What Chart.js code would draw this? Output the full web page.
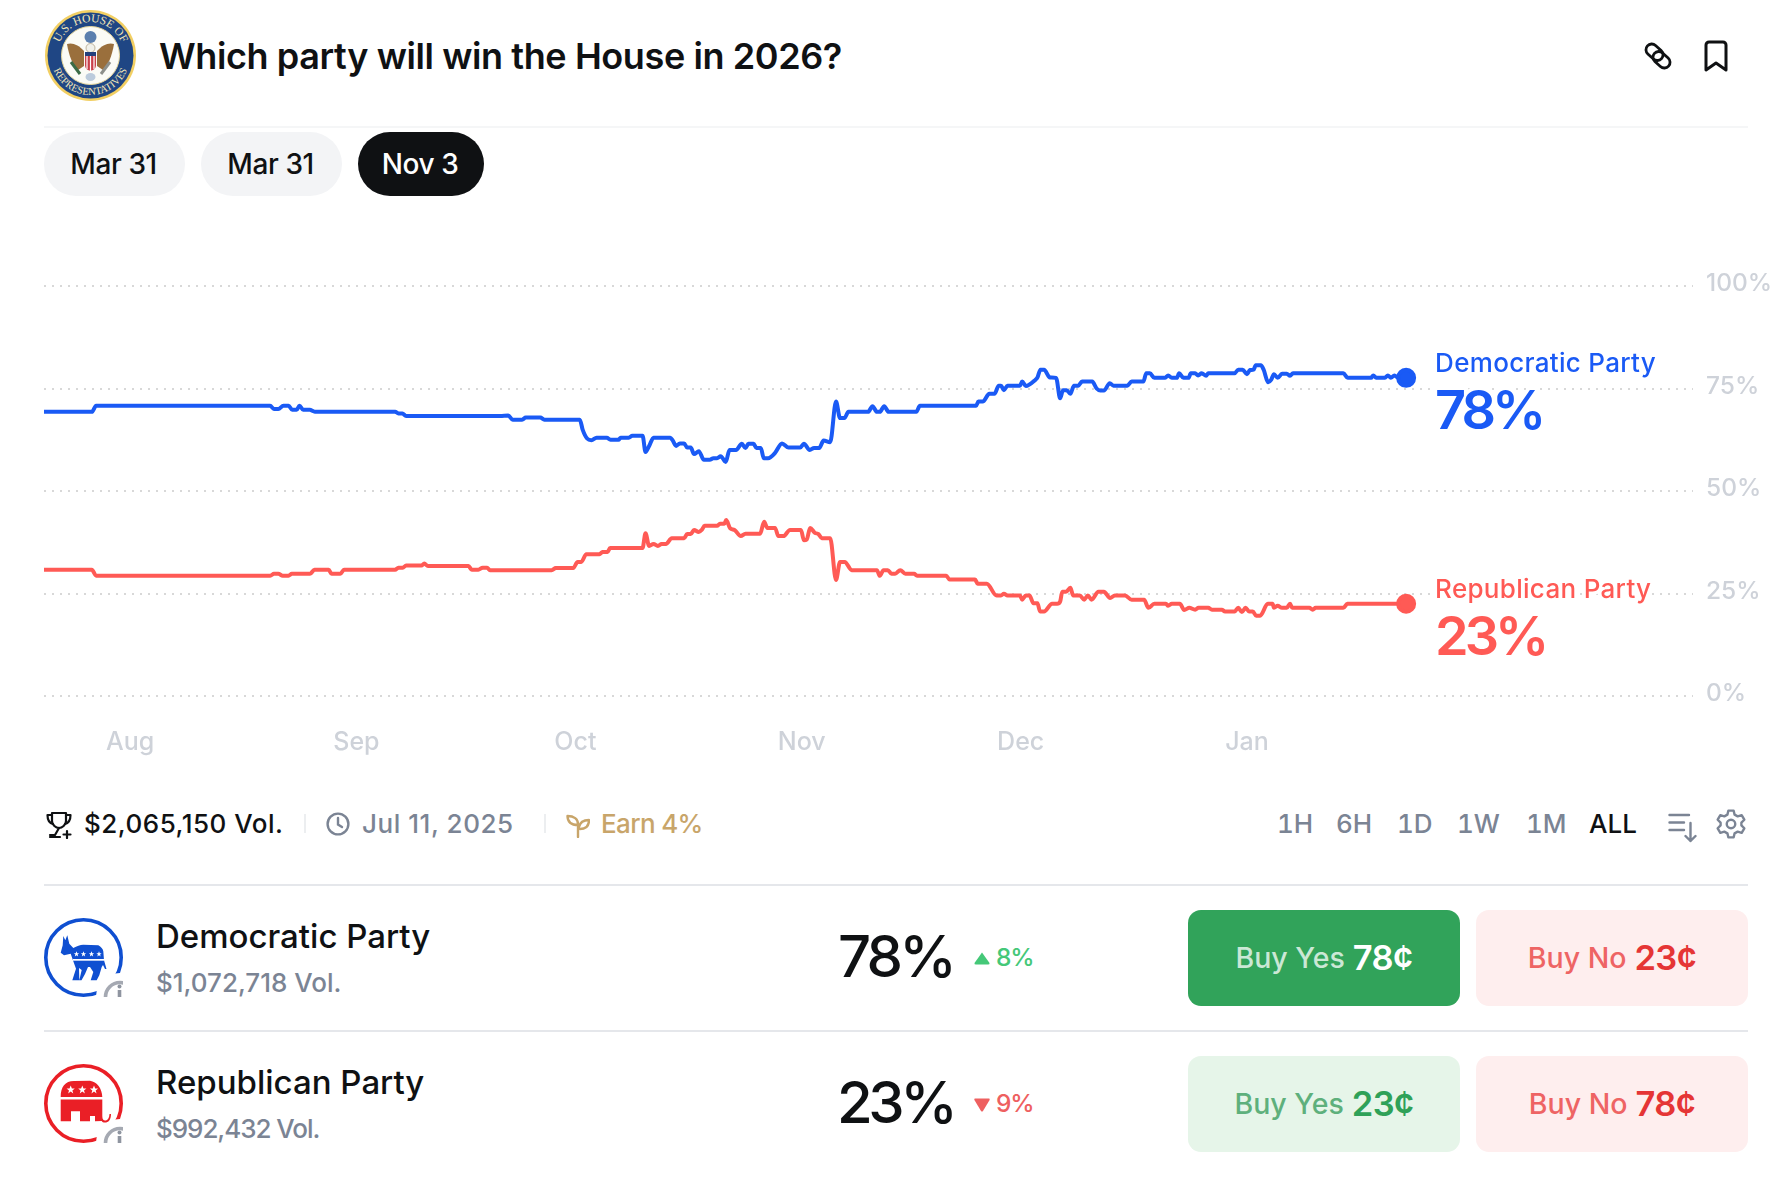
<!DOCTYPE html>
<html>
<head>
<meta charset="utf-8">
<title>Which party will win the House in 2026?</title>
<script src="https://cdn.jsdelivr.net/npm/chart.js@4"></script>
<style>
  html, body { margin: 0; background: #fff; }
  body { width: 1784px; height: 1182px; position: relative; overflow: hidden; font-family: Inter, "Noto Sans", sans-serif; font-weight: 500; color: #0f1113; }
  #chartWrap { position: absolute; left: 0; top: 240px; width: 1784px; height: 520px; }
  .t { position: absolute; white-space: nowrap; transform: translateY(-50%); line-height: 1; }
  .ico { position: absolute; display: block; }
  .rule { position: absolute; left: 44px; width: 1704px; }
  .pill { position: absolute; top: 132px; height: 64px; padding-right: 2px; box-sizing: border-box; border-radius: 32px; background: #f3f4f6; font-size: 28px; letter-spacing: -.4px; display: flex; align-items: center; justify-content: center; }
  .pill.on { background: #0f1113; color: #fff; }
  .sep { position: absolute; top: 814px; width: 2px; height: 19px; background: #eceef0; }
  .grey { color: #7b8494; }
  .range { font-size: 26px; font-feature-settings: "tnum" 1; }
  .btn { position: absolute; width: 272px; height: 96px; padding-bottom: 2px; box-sizing: border-box; border-radius: 13px; display: flex; align-items: center; justify-content: center; font-size: 28.5px; gap: 8px; }
  .btn b { font-size: 34.5px; font-weight: 600; letter-spacing: -.6px; }
  .yes1 { background: #31a35a; color: rgba(255,255,255,.75); }
  .yes1 b { color: #fff; }
  .yes2 { background: #e6f5e9; color: #5eb07c; }
  .yes2 b { color: #2fa158; }
  .no { background: #feeeee; color: #ee6464; }
  .no b { color: #e53535; }
</style>
</head>
<body>

<svg width="0" height="0" style="position:absolute">
  <defs>
    <path id="star" d="M0 -2.4 L.7 -.7 L2.4 -.7 L1 .4 L1.5 2.2 L0 1.1 L-1.5 2.2 L-1 .4 L-2.4 -.7 L-.7 -.7Z" fill="#fff"/>
    <g id="infoBadge">
      <circle cx="76" cy="79" r="24" fill="#fff"/>
      <circle cx="76" cy="79" r="14.5" fill="#fff" stroke="#a5a9b2" stroke-width="3.6"/>
      <path d="M75.5 72 V79" stroke="#8f95a0" stroke-width="3.6"/><circle cx="75.5" cy="68.5" r="2" fill="#8f95a0"/>
    </g>
  </defs>
</svg>

<!-- header -->
<svg class="ico" style="left:45px;top:10px" width="91" height="91" viewBox="0 0 91 91">
  <circle cx="45.5" cy="45.5" r="45.5" fill="#f2cf63"/>
  <circle cx="45.5" cy="45.5" r="43" fill="#1f4684"/>
  <circle cx="45.5" cy="45.5" r="29" fill="#fbfbf6" stroke="#e8d79a" stroke-width="1"/>
  <path id="sealTop" d="M12 45.5 A33.5 33.5 0 0 1 79 45.5" fill="none"/>
  <path id="sealBottom" d="M6 45.5 A39.5 39.5 0 0 0 85 45.5" fill="none"/>
  <text font-family="Liberation Serif" font-size="11.5" fill="#f4e6b8"><textPath href="#sealTop" startOffset="50%" text-anchor="middle">U.S. HOUSE OF</textPath></text>
  <text font-family="Liberation Serif" font-size="10.5" fill="#f4e6b8"><textPath href="#sealBottom" startOffset="50%" text-anchor="middle">REPRESENTATIVES</textPath></text>
  <circle cx="45.5" cy="27" r="6" fill="#5b7fae"/>
  <path d="M22 34 C27 32 34 35 39 41 L39 56 L33 60 C28 56 24 46 22 34Z" fill="#9a6f3c"/>
  <path d="M69 34 C64 32 57 35 52 41 L52 56 L58 60 C63 56 67 46 69 34Z" fill="#9a6f3c"/>
  <circle cx="45.5" cy="38" r="4.5" fill="#f1f1ea" stroke="#9a8a6a" stroke-width=".6"/>
  <rect x="40" y="42" width="11" height="4" fill="#23407c"/>
  <path d="M40 46 H51 V55 C51 59 48 60 45.5 61 C43 60 40 59 40 55Z" fill="#c9404a"/>
  <path d="M42 46 V59 M45.5 46 V61 M49 46 V59" stroke="#fff" stroke-width="1.2"/>
  <path d="M26 52 L35 64" stroke="#3b6b45" stroke-width="3"/>
  <path d="M65 52 L56 64" stroke="#8d8f8a" stroke-width="3"/>
  <ellipse cx="45.5" cy="67" rx="5" ry="4" fill="#bccbdc"/>
</svg>
<div class="t" style="left:159px;top:56px;font-size:36px;font-weight:600;letter-spacing:-.4px">Which party will win the House in 2026?</div>
<svg class="ico" style="left:1643px;top:41px" width="30" height="30" viewBox="0 0 30 30" fill="none" stroke="#0f1113" stroke-width="2.8">
  <rect x="2" y="5.5" width="19" height="11.5" rx="5.75" transform="rotate(42 11.5 11.25)"/>
  <rect x="9" y="13" width="19" height="11.5" rx="5.75" transform="rotate(42 18.5 18.75)"/>
</svg>
<svg class="ico" style="left:1704px;top:40px" width="24" height="32" viewBox="0 0 24 32" fill="none" stroke="#0f1113" stroke-width="3" stroke-linejoin="round">
  <path d="M2 30 V5 A3 3 0 0 1 5 2 H19 A3 3 0 0 1 22 5 V30 L12 23Z"/>
</svg>
<div class="rule" style="top:126px;height:2px;background:#f5f6f7"></div>
<div class="pill" style="left:44px;width:141px">Mar 31</div>
<div class="pill" style="left:201px;width:141px">Mar 31</div>
<div class="pill on" style="left:358px;width:126px">Nov 3</div>

<div id="chartWrap"><canvas id="chart" width="1784" height="520"></canvas></div>

<!-- stats bar -->
<svg class="ico" style="left:46px;top:811px" width="26" height="28" viewBox="0 0 26 28" fill="none" stroke="#0f1113" stroke-width="2.2" stroke-linejoin="round" stroke-linecap="round">
  <path d="M6 2 H20 V10 C20 14 16 17 13 17 C10 17 6 14 6 10Z"/>
  <path d="M6 4 H1.5 C1.5 9 3 12 7 13 M20 4 H24.5 C24.5 9 23 12 19 13"/>
  <path d="M13 17 L9 24 H4 M4 26 H14 M21 20 V27 M17.5 23.5 H24.5"/>
</svg>
<div class="t" style="left:84px;top:824px;font-size:26px;letter-spacing:.5px">$2,065,150 Vol.</div>
<div class="sep" style="left:304px"></div>
<svg class="ico" style="left:326px;top:812px" width="24" height="24" viewBox="0 0 24 24" fill="none" stroke="#7b8494" stroke-width="2.4" stroke-linecap="round">
  <circle cx="12" cy="12" r="10.4"/><path d="M12 6 V12.5 L16 15"/>
</svg>
<div class="t grey" style="left:362px;top:824px;font-size:26px;letter-spacing:.55px">Jul 11, 2025</div>
<div class="sep" style="left:544px"></div>
<svg class="ico" style="left:566px;top:814px" width="24" height="24" viewBox="0 0 24 24" fill="none" stroke="#c8a56a" stroke-width="2.4" stroke-linejoin="round" stroke-linecap="round">
  <path d="M12 23 V10 C12 5 8 2 1.5 2 C1.5 8 5 11 12 11"/>
  <path d="M14 15 C20 15 23 12 23 6 C18 6 14 8 13 13"/>
</svg>
<div class="t" style="left:601px;top:824px;font-size:26px;letter-spacing:-.65px;color:#c8a56a">Earn 4%</div>

<div class="t grey range" style="left:1277px;top:824px">1H</div>
<div class="t grey range" style="left:1336px;top:824px">6H</div>
<div class="t grey range" style="left:1397px;top:824px">1D</div>
<div class="t grey range" style="left:1457px;top:824px">1W</div>
<div class="t grey range" style="left:1526px;top:824px">1M</div>
<div class="t range" style="left:1589px;top:824px">ALL</div>
<svg class="ico" style="left:1668px;top:813px" width="29" height="30" viewBox="0 0 29 30" fill="none" stroke="#7b8494" stroke-width="2.4" stroke-linecap="round" stroke-linejoin="round">
  <path d="M1.5 2 H21 M1.5 9.5 H16 M1.5 17 H16 M22.5 10 V28 M17.5 23 L22.5 28 L27.5 23"/>
</svg>
<svg class="ico" style="left:1715px;top:808px" width="32" height="32" viewBox="0 0 24 24" fill="none" stroke="#7b8494" stroke-width="1.8" stroke-linejoin="round">
  <path d="M10 2 H14 L14.7 5 L17 6.3 L20 5.4 L22 8.8 L19.8 11 V13 L22 15.2 L20 18.6 L17 17.7 L14.7 19 L14 22 H10 L9.3 19 L7 17.7 L4 18.6 L2 15.2 L4.2 13 V11 L2 8.8 L4 5.4 L7 6.3 L9.3 5Z"/>
  <circle cx="12" cy="12" r="3.2"/>
</svg>

<div class="rule" style="top:884px;height:2px;background:#e5e7eb"></div>

<!-- democratic row -->
<svg class="ico" style="left:44px;top:918px" width="79" height="79" viewBox="0 0 79 79">
  <circle cx="39.5" cy="39.5" r="37.7" fill="#fff" stroke="#0f4fd1" stroke-width="3.6"/>
  <path d="M19.3 18 L21.3 22.3 L23.3 17.3 L25.3 25.7 L29.3 30 C33 28 36 26.7 39.3 26.7 L54.3 27.3 C57 29 59 31 59.3 33.3 L60 42.3 L62.5 51 L61 51 L59 47 L57.7 49 L55.3 57.3 L52.7 62.3 L46.7 62.3 L49.3 54 L46 49 L37.7 49 L44 49 L41 56 L37.5 62.3 L35.3 62.3 L37.7 52 L35 50 L35.3 62.3 L28.3 62.3 L32 50.7 L29.3 43.3 L26.7 35.7 L20 37.3 L16.7 34.7 L18.7 27.3Z" fill="#0f4fd1"/>
  <rect x="29" y="41" width="31" height="1.7" fill="#fff"/>
  <use href="#star" transform="translate(32.5 36) scale(1.1)"/><use href="#star" transform="translate(39.5 36) scale(1.1)"/><use href="#star" transform="translate(47.5 36) scale(1.1)"/><use href="#star" transform="translate(55 36) scale(1.1)"/>
  <use href="#infoBadge"/>
</svg>
<div class="t" style="left:156px;top:936px;font-size:33px">Democratic Party</div>
<div class="t grey" style="left:156px;top:983px;font-size:26px">$1,072,718 Vol.</div>
<div class="t" style="left:838px;top:956px;font-size:58px;letter-spacing:-3.8px">78%</div>
<svg class="ico" style="left:974px;top:952px" width="16" height="13" viewBox="0 0 16 13"><path d="M8 .5 L15.5 11 Q16 12.5 14 12.5 H2 Q0 12.5 .5 11Z" fill="#45c878"/></svg>
<div class="t" style="left:996px;top:957px;font-size:24.5px;letter-spacing:-1.2px;color:#45c878">8%</div>
<div class="btn yes1" style="left:1188px;top:910px">Buy Yes <b>78¢</b></div>
<div class="btn no" style="left:1476px;top:910px">Buy No <b>23¢</b></div>

<div class="rule" style="top:1030px;height:2px;background:#e5e7eb"></div>

<!-- republican row -->
<svg class="ico" style="left:44px;top:1064px" width="79" height="79" viewBox="0 0 79 79">
  <circle cx="39.5" cy="39.5" r="37.7" fill="#fff" stroke="#ea1f26" stroke-width="3.6"/>
  <path d="M16.7 33 C16.7 23 21 17 30 17 L46 16.7 C53 18 58 24 58.3 33Z" fill="#ea1f26"/>
  <path d="M16.7 35.5 H58.3 V52 C58.3 56 60 57 62 56.5 C64 56 65.2 54 65.5 50 L67 50 C67 56 64.5 58.5 61 58.5 C59.5 58.5 58.2 58 57.7 57 L51 57.3 V52 H46 V57.3 H36 V47.3 H27 V57.3 H16.7Z" fill="#ea1f26"/>
  <use href="#star" transform="translate(26.7 25.7) scale(1.7)"/><use href="#star" transform="translate(38.3 25.7) scale(1.7)"/><use href="#star" transform="translate(50 25.7) scale(1.7)"/>
  <use href="#infoBadge"/>
</svg>
<div class="t" style="left:156px;top:1082px;font-size:33px">Republican Party</div>
<div class="t grey" style="left:156px;top:1129px;font-size:26px;letter-spacing:-1.05px">$992,432 Vol.</div>
<div class="t" style="left:837px;top:1102px;font-size:58px;letter-spacing:-4.4px">23%</div>
<svg class="ico" style="left:974px;top:1098px" width="16" height="14" viewBox="0 0 16 14"><path d="M.8 .5 H15.2 Q16 .5 15.6 2 L9 13 Q8 14 7 13 L.4 2 Q0 .5 .8 .5Z" fill="#ee6060"/></svg>
<div class="t" style="left:996px;top:1103px;font-size:24.5px;letter-spacing:-1.2px;color:#ee6060">9%</div>
<div class="btn yes2" style="left:1188px;top:1056px">Buy Yes <b>23¢</b></div>
<div class="btn no" style="left:1476px;top:1056px">Buy No <b>78¢</b></div>

<script>
// days counted from Aug 1
const demDays = [-11.8,-5.25,-4.66,19.18,19.7,20.3,21,21.7,22.2,22.8,23.2,23.7,24.6,25.3,36.3,36.75,37.3,37.8,50.7,51.8,52.4,53.7,54.2,56.2,56.75,61.6,62,62.6,63.2,63.9,65.3,65.8,66.9,67.2,68.3,68.8,70.2,70.6,71.1,71.7,74,74.3,74.8,75.3,75.9,76.3,76.8,77.25,77.9,78.6,79.4,79.9,80.4,80.9,81.6,82.1,83,83.8,84.3,84.7,85.4,85.8,86.4,86.8,87.4,88.35,89.3,90.2,91.8,92.3,93.1,93.7,94.4,95,95.9,96.7,97.25,97.85,98.4,101.1,101.7,102.3,102.7,103.3,103.9,107.7,108.2,115.9,116.2,116.8,117.7,118.4,119,119.3,119.7,120.2,121.9,122.2,122.7,124,124.3,124.7,125.2,126,126.85,127.4,127.8,128.3,128.8,129.3,129.9,130.4,131.8,132.4,132.9,133.4,134.2,134.7,136.6,137.2,138.8,139.2,139.7,140.3,141.8,142.2,142.7,143.4,143.7,144.3,145,145.3,145.9,146.3,146.8,147.4,147.7,151.3,151.8,152.4,153,153.4,153.9,154.2,154.9,155.3,155.9,156.3,156.7,157.2,157.8,158.45,158.9,159.3,166.2,166.8,170,170.3,170.7,171.9,172.3,172.7,173.2,173.7,174.8];
const demValues = [69.3,69.3,70.8,70.8,70,70,70.8,70.8,69.8,69.8,70.8,69.8,69.8,69.35,69.35,68.9,68.9,68.3,68.3,68.4,67.4,67.4,67.9,67.9,67.4,67.4,64.9,62.8,62.4,63,63,62.5,62.5,63,63,63.5,63.5,59.5,61,63,63,62.4,61,61.6,61.6,60.6,60.6,59,59.7,57.6,57.6,58,58,58.5,57.1,60,60,61.5,60.5,61.5,61.5,60.5,60.5,58,58,59.3,61.6,60.6,60.6,61.5,60,60.5,60.5,62.3,61.9,71.8,67.8,67.8,69.3,69.3,70.7,69.3,69.3,70.7,69.3,69.35,70.8,70.8,71.8,71.8,73.7,73.7,75.7,75.7,74.6,75.7,75.7,76.7,75.6,77.1,77.7,79.6,79.6,77.7,77.6,72.6,74.6,74.6,73.7,75.7,75.7,76.7,76.7,75,74.5,74.5,76.3,75.7,75.7,76.7,76.7,78.7,78.7,77.6,77.6,78.2,77.6,77.6,78.7,77.6,77.6,78.7,78.7,78.2,78.7,78.1,78.7,78.7,79.6,79.6,78.5,79.5,79.6,80.65,80.65,79.5,76.5,77.1,78.5,77.6,78.6,78.6,78.1,78.7,78.7,77.6,77.6,78.2,77.6,77.6,78.2,77.6,78.2,77.6,77.6];
const repDays = [-11.8,-5.25,-4.66,19.2,19.7,20.3,20.9,21.7,22.15,24.65,25.25,27.2,27.6,28.8,29.3,36.3,36.75,37.35,37.8,39.9,40.3,40.8,46.35,46.8,47.7,48.3,48.9,49.3,57.75,58.3,60.7,61.3,61.8,62.5,64.3,64.7,65.4,65.75,70.2,70.6,71.1,71.7,72.3,72.8,73.4,74.2,75.9,76.3,76.8,77.25,77.9,78.3,78.7,80.4,80.8,81.4,81.65,82.2,82.8,83.65,84.3,86.3,86.85,87.3,88.35,88.8,89.5,90.4,91.9,92.3,92.7,93.15,93.8,94.3,94.75,95.9,96.7,97.25,97.9,98.85,102.3,102.7,103.2,103.8,104.3,104.8,105.5,106.2,107.4,107.8,111.8,112.25,115.75,116.1,117.35,118.7,119.3,119.7,120.2,121.9,122.2,122.7,123.2,123.75,124.3,124.65,125.2,126.3,127,127.4,127.7,128.2,128.8,129.2,130.1,130.7,131.2,131.7,132.65,133.4,134.25,134.9,136.3,137.2,138.9,139.5,140.3,141.9,142.2,142.7,143.8,144.4,145.1,145.9,146.35,147.7,148.2,149.55,150,151.3,151.8,152.3,152.8,153.3,153.8,154.25,154.8,155.85,156.5,156.7,157.2,157.8,158.45,158.9,159.2,161.55,162,162.4,166.2,166.75,174.8];
const repValues = [30.8,30.8,29.35,29.35,29.8,29.8,29.35,29.35,29.8,29.8,30.8,30.8,29.8,29.8,30.8,30.8,31.3,31.3,31.8,31.8,32.3,31.7,31.7,30.8,30.8,31.3,31.3,30.7,30.7,31.2,31.2,32.7,32.7,34.6,34.6,35.1,35.1,36.1,36.1,39.7,36.6,37.1,36.6,37.1,37.1,38.5,38.5,39.5,39.5,40.5,40,40.5,41.5,41.5,42,42,42.9,40.9,40.5,39,39.6,39.6,42.5,41,41,39,39,40.5,40.5,38,38.2,41,39.8,39.5,38.5,38.5,28.3,32.7,32.7,30.7,30.7,29.3,30.7,30.7,29.8,29.8,30.7,29.8,29.8,29.35,29.35,28.4,28.4,27.4,27.4,24.5,24.5,24.95,24.5,24.5,23.5,24.5,24.5,22.6,22.6,20.6,20.6,22.5,22.5,23,25.4,25.4,26.4,24.5,24.5,23.5,24.5,23.5,25.4,25.4,23.9,24.5,24.5,23.5,23.5,21.5,22.5,22.5,22,22.5,22.5,21,21.5,21.05,21.5,21.5,21.05,21.05,20.6,20.6,21.5,20.5,21.5,20.6,20.6,19.6,19.6,22.5,22.5,21.5,22,21.5,21.5,22.5,21.5,21.5,21.05,21.5,21.5,22.5,22.5];

const monthDays = [0, 31, 61, 92, 122, 153];
const monthLabels = ['Aug', 'Sep', 'Oct', 'Nov', 'Dec', 'Jan'];
const yTicks = [0, 25, 50, 75, 100];

const seriesNames = ['Democratic Party', 'Republican Party'];
const seriesPercent = ['78%', '23%'];
const seriesColors = ['#1a5af5', '#ff5a55'];

const toPoints = (days, values) => days.map((d, i) => ({ x: d, y: values[i] }));

// name and big percent next to the last point of each line
const endLabels = {
    id: 'endLabels',
    afterDatasetsDraw(chart) {
        const ctx = chart.ctx;
        chart.data.datasets.forEach((ds, i) => {
            const pt = chart.getDatasetMeta(i).data[ds.data.length - 1];
            const tx = pt.x + 29;
            ctx.save();
            ctx.textBaseline = 'middle';
            ctx.lineJoin = 'round';
            ctx.strokeStyle = '#fff';
            ctx.lineWidth = 7;
            ctx.fillStyle = seriesColors[i];
            ctx.font = '500 26px Inter';
            ctx.letterSpacing = '0.3px';
            ctx.strokeText(seriesNames[i], tx, pt.y - 14);
            ctx.fillText(seriesNames[i], tx, pt.y - 14);
            ctx.font = '600 54px Inter';
            ctx.letterSpacing = '-4px';
            ctx.strokeText(seriesPercent[i], tx, pt.y + 35);
            ctx.fillText(seriesPercent[i], tx, pt.y + 35);
            ctx.restore();
        });
    },
};

const lineDataset = (i, days, values) => ({
    label: seriesNames[i],
    data: toPoints(days, values),
    borderColor: seriesColors[i],
    backgroundColor: seriesColors[i],
    borderWidth: 4,
    cubicInterpolationMode: 'monotone',
    pointRadius: ctx => (ctx.dataIndex === days.length - 1 ? 8 : 0),
    pointHoverRadius: 0,
    clip: false,
});

new Chart(document.getElementById('chart'), {
    type: 'line',
    data: {
        datasets: [
            lineDataset(0, demDays, demValues),
            lineDataset(1, repDays, repValues),
        ],
    },
    plugins: [endLabels],
    options: {
        responsive: false,
        animation: false,
        devicePixelRatio: 1,
        layout: { padding: { left: 44, top: 46, right: 0, bottom: 0 } },
        plugins: { legend: { display: false }, tooltip: { enabled: false } },
        scales: {
            x: {
                type: 'linear',
                min: -11.8,
                max: 214.1,
                grid: { display: false },
                border: { display: false },
                afterBuildTicks: axis => { axis.ticks = monthDays.map(v => ({ value: v })); },
                afterFit: axis => { axis.height = 64; },
                ticks: {
                    autoSkip: false,
                    maxRotation: 0,
                    padding: 23,
                    color: '#ced2d9',
                    font: { family: 'Inter', size: 25, weight: '500' },
                    callback: (v, i) => monthLabels[i],
                },
            },
            y: {
                position: 'right',
                min: 0,
                max: 100,
                afterBuildTicks: axis => { axis.ticks = yTicks.map(v => ({ value: v })); },
                afterFit: axis => { axis.width = 91; },
                grid: { color: '#d8d8d8', lineWidth: 2, drawTicks: false, tickBorderDash: [2, 6] },
                border: { display: false, dash: [2, 6] },
                ticks: {
                    padding: 13,
                    labelOffset: -2,
                    color: '#ced2d9',
                    font: { family: 'Inter', size: 24.5, weight: '500' },
                    callback: v => v + '%',
                },
            },
        },
    },
});
</script>
</body>
</html>
